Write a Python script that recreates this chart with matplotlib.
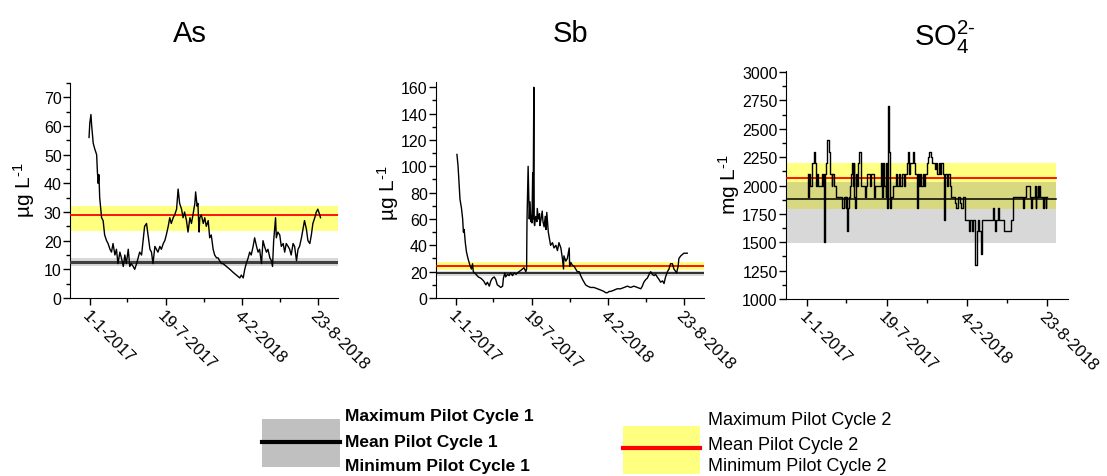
import numpy as np
import matplotlib
matplotlib.use('Agg')
import matplotlib.pyplot as plt
from matplotlib.patches import Rectangle
from matplotlib.ticker import MultipleLocator

plt.rcParams['font.family'] = ['Liberation Sans', 'DejaVu Sans']
plt.rcParams['mathtext.default'] = 'regular'

W, H = 1107, 477
START = np.datetime64('2017-01-01')
TICK_DATES = ['2017-01-01', '2017-07-19', '2018-02-04', '2018-08-23']
TICK_LABELS = ['1-1-2017', '19-7-2017', '4-2-2018', '23-8-2018']
MINOR_DATES = ['2017-04-10', '2017-10-27', '2018-05-15']

YELLOW = '#FFFF80'
GREY_LEG = '#C0C0C0'
HY = '\u2010'   # short hyphen for superscripts

# ── As (µg L-1), days since 1-1-2017 ─────────────────────────────────────────
as_days = [-2, 0, 3, 5, 9, 13, 18, 20, 22, 24, 26, 31, 35, 39, 44, 48, 53, 57, 61, 66,
           70, 74, 79, 83, 88, 92, 96, 101, 105, 109, 114, 118, 123, 127, 131, 136, 140,
           144, 149, 153, 158, 162, 166, 171, 175, 179, 184, 188, 193, 197, 201, 206,
           210, 214, 219, 223, 228, 232, 236, 241, 245, 249, 254, 258, 263, 267, 271,
           276, 278, 282, 284, 287, 289, 293, 298, 302, 306, 311, 315, 319, 324, 328,
           333, 337, 341, 346, 350, 359, 368, 376, 385, 394, 398, 403, 407, 411, 416,
           420, 424, 429, 433, 438, 442, 446, 451, 455, 459, 464, 468, 473, 477, 480,
           483, 488, 490, 494, 499, 503, 508, 512, 516, 521, 525, 529, 534, 538, 543,
           547, 551, 556, 560, 564, 569, 573, 578, 582, 586, 591, 595, 599, 604, 606]
as_vals = [56, 61, 64, 60, 54, 52, 50, 44, 40, 43, 35, 28, 27, 22, 20, 19, 17, 16, 19, 15,
           17, 12, 16, 14, 11, 15, 12, 17, 11, 12, 11, 10, 12, 14, 16, 15, 20,
           25, 26, 22, 17, 16, 12, 18, 17, 16, 18, 17, 19, 20, 22, 25,
           28, 26, 28, 29, 31, 38, 33, 31, 28, 30, 27, 23, 28, 26, 29,
           33, 37, 32, 33, 23, 28, 29, 26, 28, 25, 27, 21, 22, 17, 15,
           14, 14, 13, 12, 12, 11, 10, 9, 8, 7, 8, 7, 10, 12, 14,
           16, 15, 18, 21, 18, 16, 17, 12, 20, 18, 16, 17, 14, 13, 11,
           20, 28, 21, 23, 22, 18, 19, 16, 19, 18, 17, 15, 19, 18, 13,
           17, 18, 21, 24, 27, 24, 20, 19, 22, 26, 28, 30, 31, 29, 28]
as_cycle1 = (11.0, 12.4, 14.0)   # min, mean, max
as_cycle2 = (23.5, 29.0, 32.0)

# ── Sb (µg L-1) ───────────────────────────────────────────────────────────────
sb_days = [3, 6, 9, 11, 15, 18, 20, 22, 25, 28, 32, 37, 41, 44, 46, 53, 59, 66, 73, 79,
           83, 88, 92, 96, 101, 105, 109, 114, 118, 123, 125, 129, 131, 136, 140, 144,
           149, 153, 158, 162, 166, 171, 175, 179, 184, 186, 187, 190, 193, 195, 197,
           199, 200, 202, 203, 205, 206, 207, 210, 213, 214, 217, 220, 221, 224, 227,
           229, 232, 235, 237, 239, 241, 243, 246, 249, 254, 258, 263, 267, 271, 276,
           280, 283, 284, 289, 293, 298, 299, 302, 306, 311, 315, 319, 324, 328, 333,
           337, 341, 346, 354, 363, 372, 381, 389, 394, 398, 403, 407, 416, 424, 433,
           442, 451, 459, 468, 477, 486, 490, 494, 499, 503, 508, 512, 516, 521, 525,
           529, 534, 538, 543, 547, 551, 556, 560, 564, 569, 573, 578, 580, 584, 586,
           591, 595, 599, 604, 608]
sb_vals = [109, 100, 85, 75, 68, 60, 50, 52, 42, 35, 30, 25, 22, 26, 20, 18, 16, 15, 13, 10,
           12, 9, 13, 15, 16, 14, 10, 9, 8, 9, 15, 19, 16, 18, 17, 19,
           17, 19, 18, 19, 20, 21, 22, 23, 20, 22, 58, 100, 60, 73, 58,
           62, 57, 95, 60, 160, 57, 55, 62, 58, 68, 60, 64, 55, 60, 66,
           58, 54, 62, 52, 65, 58, 50, 45, 40, 42, 38, 40, 36, 42, 38,
           30, 22, 32, 28, 30, 38, 24, 27, 25, 24, 22, 20, 20, 17, 14,
           12, 10, 9, 8, 8, 7, 6, 5, 4, 4, 5, 5, 6, 7, 7,
           8, 9, 8, 9, 8, 7, 9, 12, 14, 15, 18, 20, 18, 17, 18,
           16, 14, 12, 13, 11, 16, 20, 22, 26, 26, 22, 20, 19, 24, 30,
           32, 33, 34, 34, 34]
sb_cycle1 = (17.0, 18.7, 20.2)
sb_cycle2 = (21.2, 24.0, 27.5)

# ── SO4 2- (mg L-1) ───────────────────────────────────────────────────────────
so4_days = [2, 3, 6, 8, 12, 14, 17, 20, 22, 26, 28, 35, 39, 41, 43, 44, 45, 47, 50, 51,
            55, 58, 59, 62, 64, 68, 72, 76, 84, 88, 93, 97, 99, 101, 102, 105, 107, 111,
            113, 116, 117, 119, 121, 123, 126, 128, 131, 134, 136, 140, 144, 148, 150,
            154, 157, 160, 164, 167, 170, 175, 182, 186, 188, 190, 193, 197, 198, 200,
            202, 203, 205, 207, 208, 211, 215, 218, 223, 226, 230, 233, 238, 243, 246,
            249, 252, 254, 258, 262, 266, 268, 271, 274, 277, 279, 282, 286, 289, 292,
            296, 299, 302, 306, 309, 312, 316, 319, 322, 325, 329, 332, 335, 339, 342,
            343, 345, 349, 353, 357, 361, 365, 369, 373, 377, 382, 386, 390, 394, 398,
            402, 406, 408, 411, 413, 416, 419, 421, 424, 427, 431, 435, 438, 444, 452,
            460, 464, 467, 470, 472, 477, 479, 482, 487, 491, 497, 505, 510, 514, 515,
            522, 530, 535, 539, 542, 545, 548, 553, 557, 560, 563, 567, 570, 572, 573,
            576, 578, 580, 583, 587, 590, 592, 596, 598, 600]
so4_vals = [2100, 1900, 2100, 2000, 2100, 2200, 2300, 2200, 2000, 2100, 2000, 2000, 2100,
            2000, 2100, 1500, 2100, 2200, 2300, 2400, 2300, 2100, 2100, 2000, 2100, 2000,
            1900, 1900, 1900, 1800, 1900, 1800, 1900, 1600, 1800, 1900, 2000, 2100, 2200,
            2000, 2200, 1900, 1800, 2100, 2000, 2200, 2300, 2100, 2000, 2000, 1900, 2000,
            2100, 2100, 2000, 2100, 2100, 1900, 2000, 2000, 2000, 2200, 1900, 2200, 2000,
            1900, 2200, 1800, 2200, 2700, 2300, 1800, 1800, 1900, 2000, 2000, 2100, 2000,
            2100, 2000, 2100, 2000, 2100, 2200, 2300, 2100, 2200, 2200, 2300, 2200, 2100,
            1800, 2100, 2000, 2100, 2000, 2100, 2000, 2100, 2200, 2250, 2300, 2250, 2200,
            2200, 2150, 2200, 2100, 2200, 2100, 2200, 2100, 2100, 1700, 2100, 2000, 2100,
            2000, 1900, 1900, 1850, 1800, 1900, 1850, 1800, 1900, 1700, 1700, 1700, 1600,
            1700, 1700, 1600, 1700, 1600, 1300, 1600, 1700, 1600, 1400, 1700, 1700, 1700,
            1700, 1800, 1700, 1600, 1700, 1800, 1700, 1700, 1700, 1600, 1600, 1600, 1700,
            1800, 1900, 1900, 1900, 1900, 1800, 1900, 1900, 2000, 2000, 1900, 1800, 1900,
            1900, 2000, 1800, 1900, 2000, 1900, 2000, 1900, 1900, 1800, 1900, 1800, 1900,
            1900]
so4_cycle1 = (1490, 1878, 2030)
so4_cycle2 = (1790, 2071, 2200)


def to_dates(days):
    return START + np.array(days, dtype='timedelta64[D]')


fig = plt.figure(figsize=(W / 100, H / 100), dpi=100)


def panel(rect, days, vals, c1, c2, ylim, major, minor, band_end=1.0,
          steps=False, thick_mean=False):
    ax = fig.add_axes(rect)
    lo1, mean1, hi1 = c1
    lo2, mean2, hi2 = c2
    ax.axhspan(lo2, hi2, xmin=0, xmax=band_end, color=YELLOW, lw=0, zorder=1)
    ax.axhspan(lo1, hi1, xmin=0, xmax=band_end, color='#808080', alpha=0.3, lw=0, zorder=2)
    ax.axhline(mean2, xmin=0, xmax=band_end, color='red', lw=1.3, zorder=3)
    if thick_mean:
        ax.axhline(mean1, xmin=0, xmax=band_end, color='#404040', lw=2.2, zorder=3)
    else:
        ax.axhline(mean1, xmin=0, xmax=band_end, color='black', lw=1.1, zorder=3)
    ax.plot(to_dates(days), vals, color='black', lw=1.0, zorder=4,
            drawstyle='steps-post' if steps else 'default')
    ax.set_xlim(START - np.timedelta64(52, 'D'), START + np.timedelta64(652, 'D'))
    ax.set_ylim(*ylim)
    ax.yaxis.set_major_locator(MultipleLocator(major))
    ax.yaxis.set_minor_locator(MultipleLocator(minor))
    ax.set_xticks([np.datetime64(d) for d in TICK_DATES])
    ax.set_xticks([np.datetime64(d) for d in MINOR_DATES], minor=True)
    ax.set_xticklabels(TICK_LABELS, rotation=-45, ha='left', va='top',
                       rotation_mode='anchor', fontsize=12)
    for s in ('top', 'right'):
        ax.spines[s].set_visible(False)
    ax.tick_params(which='major', length=5, width=1, labelsize=11.5, pad=2)
    ax.tick_params(axis='x', labelsize=12)
    ax.tick_params(which='minor', length=3, width=1)
    ax.tick_params(axis='y', pad=1)
    return ax


panel([70 / W, 178 / H, 268 / W, 215 / H], as_days, as_vals, as_cycle1, as_cycle2,
      (0, 75), 10, 5, thick_mean=True)
panel([436 / W, 178 / H, 268 / W, 216 / H], sb_days, sb_vals, sb_cycle1, sb_cycle2,
      (0, 164), 20, 10)
panel([786 / W, 177 / H, 282 / W, 228 / H], so4_days, so4_vals, so4_cycle1, so4_cycle2,
      (1000, 3010), 250, 125, band_end=0.957, steps=True)

# titles and y labels
fig.text(190 / W, 1 - 42 / H, 'As', ha='center', va='baseline', fontsize=21)
fig.text(570 / W, 1 - 42 / H, 'Sb', ha='center', va='baseline', fontsize=21)
fig.text(945 / W, 1 - 46 / H, 'SO$_4^{2' + HY + '}$', ha='center', va='baseline', fontsize=21)
ulabel = 'L$^{' + HY + '1}$'
fig.text(24 / W, 1 - 190 / H, 'µg ' + ulabel, rotation=90, ha='center', va='center', fontsize=15)
fig.text(388 / W, 1 - 193 / H, 'µg ' + ulabel, rotation=90, ha='center', va='center', fontsize=15)
fig.text(729 / W, 1 - 185 / H, 'mg ' + ulabel, rotation=90, ha='center', va='center', fontsize=15)

# legend drawn in pixel space
lax = fig.add_axes([0, 0, 1, 1])
lax.set_xlim(0, W)
lax.set_ylim(H, 0)
lax.axis('off')
lax.add_patch(Rectangle((262, 420), 78, 48, fc=GREY_LEG, ec='none'))
lax.plot([262, 340], [443, 443], color='black', lw=3)
for y, t in zip([417, 443, 467], ['Maximum Pilot Cycle 1', 'Mean Pilot Cycle 1',
                                  'Minimum Pilot Cycle 1']):
    lax.text(345, y, t, ha='left', va='center', fontsize=12.5, fontweight='bold')
lax.add_patch(Rectangle((623, 427), 77, 48, fc=YELLOW, ec='none'))
lax.plot([623, 700], [449, 449], color='red', lw=3)
for y, t in zip([421, 446, 467], ['Maximum Pilot Cycle 2', 'Mean Pilot Cycle 2',
                                  'Minimum Pilot Cycle 2']):
    lax.text(708, y, t, ha='left', va='center', fontsize=13)

fig.savefig('out.png', dpi=100)
